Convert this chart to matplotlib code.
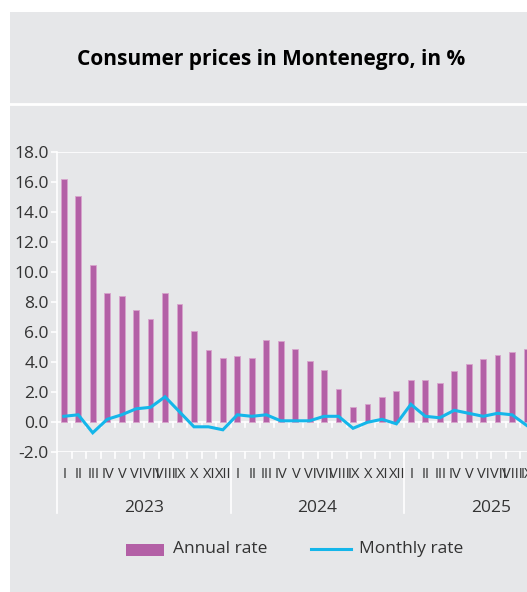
import matplotlib
matplotlib.use("Agg")
import matplotlib.pyplot as plt
from matplotlib.patches import Rectangle
import numpy as np

plt.rcParams['font.family'] = ['Open Sans', 'DejaVu Sans']

# ---- data ----
years = ["2023", "2024", "2025"]
month_labels = ["I", "II", "III", "IV", "V", "VI", "VII", "VIII", "IX", "X", "XI", "XII"]
annual_rate = [16.2, 15.1, 10.5, 8.6, 8.4, 7.5, 6.9, 8.6, 7.9, 6.1, 4.8, 4.3,
               4.4, 4.3, 5.5, 5.4, 4.9, 4.1, 3.5, 2.2, 1.0, 1.2, 1.7, 2.1,
               2.8, 2.8, 2.6, 3.4, 3.9, 4.2, 4.5, 4.7, 4.9]
monthly_rate = [0.4, 0.5, -0.7, 0.2, 0.5, 0.9, 1.0, 1.7, 0.7, -0.3, -0.3, -0.5,
                0.5, 0.4, 0.5, 0.1, 0.1, 0.1, 0.4, 0.4, -0.4, 0.0, 0.2, -0.1,
                1.2, 0.4, 0.3, 0.8, 0.6, 0.4, 0.6, 0.5, -0.2]
y_ticks = [-2.0, 0.0, 2.0, 4.0, 6.0, 8.0, 10.0, 12.0, 14.0, 16.0, 18.0]

W, H = 527, 592
BG = "#e6e7e9"
PURPLE = "#b360a6"
CYAN = "#14b6ea"
TXT = "#333333"

fig = plt.figure(figsize=(W / 100, H / 100), dpi=100)
fig.patch.set_facecolor("white")

def fx(px):
    return px / W

def fy(py):
    return 1 - py / H

# background panel axes
bg = fig.add_axes([0, 0, 1, 1], zorder=-10)
bg.set_xlim(0, W)
bg.set_ylim(H, 0)
bg.axis("off")
bg.add_patch(Rectangle((10, 12), W - 10, H - 12, facecolor=BG, edgecolor="none"))
bg.plot([10, W], [104, 104], color="white", lw=2.0)
bg.text(271, 60, "Consumer prices in Montenegro, in %", ha="center", va="center",
        fontsize=15, fontweight="bold", color="black")

# axes
left_px, right_px = 57.3, 527.0
top_px, bot_px = 152.3, 452.3
ax = fig.add_axes([fx(left_px), fy(bot_px), fx(right_px - left_px), (bot_px - top_px) / H])
ax.set_facecolor("none")
px_per_month = 14.46
ax.set_xlim(0, (right_px - left_px) / px_per_month)
ax.set_ylim(-2, 18)

n = len(annual_rate)
xpos = np.arange(n) + 0.45
ax.bar(xpos, annual_rate, width=0.4, color=PURPLE, edgecolor="#d7a3cc", linewidth=0.6, zorder=3)
ax.plot(xpos, monthly_rate, color=CYAN, lw=2.2, zorder=4, solid_joinstyle="miter")

for s in ["top", "right", "bottom"]:
    ax.spines[s].set_visible(False)
ax.spines["left"].set_color("white")
ax.spines["left"].set_linewidth(1.2)
ax.set_yticks(y_ticks)
ax.set_yticklabels([f"{v:.1f}" for v in y_ticks])
ax.tick_params(axis="y", colors="white", length=4, width=1.2, labelcolor=TXT, labelsize=12.5, pad=2)
ax.set_xticks([])

for yv in [18, 0, -2]:
    ax.axhline(yv, color="white", lw=1.2, zorder=2)

upp = 1 / 15.0  # data units per pixel
nshow = int(np.ceil((right_px - left_px) / px_per_month))
for k in range(1, nshow + 1):
    ax.plot([k, k], [0, -5 * upp], color="white", lw=1.2, zorder=2)
    ax.plot([k, k], [-2, -2 - 6 * upp], color="white", lw=1.2, zorder=2, clip_on=False)

# year separators
ax.plot([0, 0], [-2, -2 - 61 * upp], color="white", lw=1.2, clip_on=False)
for yi in range(1, len(years)):
    ax.plot([12 * yi, 12 * yi], [-2, -2 - 61 * upp], color="white", lw=1.2, clip_on=False)

# month labels and year labels
for i in range(n):
    ax.text(xpos[i] + 0.05, -2 - 21.7 * upp, month_labels[i % 12], ha="center", va="center",
            fontsize=10.5, color=TXT, clip_on=False)
for yi, yl in enumerate(years):
    ax.text(12 * yi + 6, -2 - 56 * upp, yl, ha="center", va="center", fontsize=12.5, color=TXT,
            clip_on=False)

# legend
bg.add_patch(Rectangle((126, 544), 38, 12, facecolor=PURPLE, edgecolor="none"))
bg.text(173, 549, "Annual rate", ha="left", va="center", fontsize=12.5, color=TXT)
bg.plot([311, 351], [549, 549], color=CYAN, lw=2.2)
bg.text(359, 549, "Monthly rate", ha="left", va="center", fontsize=12.5, color=TXT)

fig.savefig("out.png", dpi=100, facecolor=fig.get_facecolor())
